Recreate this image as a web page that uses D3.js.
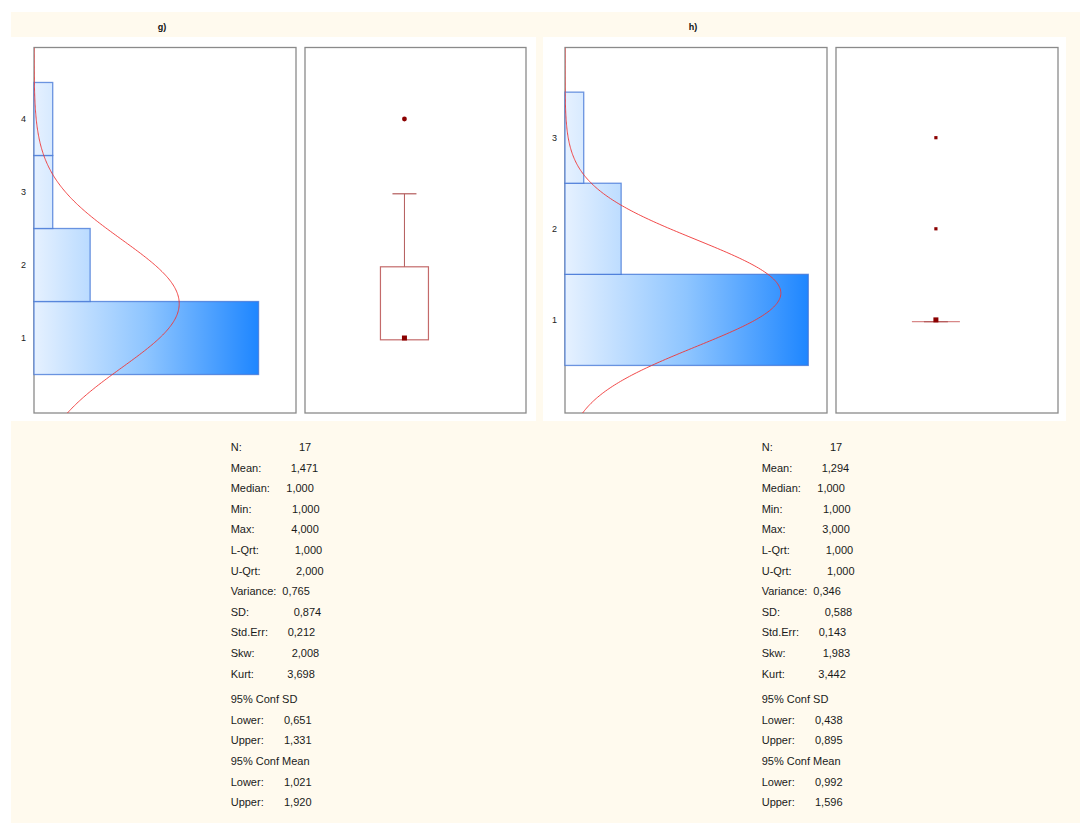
<!DOCTYPE html>
<html>
<head>
<meta charset="utf-8">
<script src="https://cdn.jsdelivr.net/npm/d3@7"></script>
<style>
  html, body { margin: 0; padding: 0; background: #ffffff; }
  svg { display: block; font-family: "Liberation Sans", Arial, sans-serif; }
</style>
</head>
<body>
<svg id="chart" width="1091" height="823"></svg>
<script>
// ---------------- DATA ----------------
const panelTitles = ["g)", "h)"];
const binCentersG = [1, 2, 3, 4];
const countsG = [12, 3, 1, 1];
const binCentersH = [1, 2, 3];
const countsH = [13, 3, 1];
const yTicksG = [1, 2, 3, 4];
const yTicksH = [1, 2, 3];
const yDomainG = [-0.027, 4.979];
const yDomainH = [-0.022, 3.99];
const countDomain = [0, 14];
const nG = 17, meanG = 1.471, sdG = 0.874;
const nH = 17, meanH = 1.294, sdH = 0.588;
// box-plot summaries
const boxG = { q1: 1, median: 1, q3: 2, whiskerLo: 1, whiskerHi: 3, outliers: [4] };
const boxH = { q1: 1, median: 1, q3: 1, whiskerLo: 1, whiskerHi: 1, outliers: [2, 3] };
// statistics table
const statLabels = ["N:", "Mean:", "Median:", "Min:", "Max:", "L-Qrt:", "U-Qrt:", "Variance:", "SD:",
  "Std.Err:", "Skw:", "Kurt:", "95% Conf SD", "Lower:", "Upper:", "95% Conf Mean", "Lower:", "Upper:"];
const statsG = ["17", "1,471", "1,000", "1,000", "4,000", "1,000", "2,000", "0,765", "0,874",
  "0,212", "2,008", "3,698", "", "0,651", "1,331", "", "1,021", "1,920"];
const statsH = ["17", "1,294", "1,000", "1,000", "3,000", "1,000", "1,000", "0,346", "0,588",
  "0,143", "1,983", "3,442", "", "0,438", "0,895", "", "0,992", "1,596"];

// ---------------- LAYOUT ----------------
const valueDx = [68.3, 60, 55.6, 61.3, 60.6, 64, 65.3, 51.6, 63, 57, 61, 56.6, 0, 53.3, 53.3, 0, 53.3, 53.3];
const panels = [
  { title: panelTitles[0], bins: binCentersG, counts: countsG, ticks: yTicksG, yDomain: yDomainG,
    n: nG, mean: meanG, sd: sdG, box: boxG, stats: statsG,
    white: [11, 536], hist: [34, 296], boxX: [305, 526], labelX: 230.7, outlierShape: "circle" },
  { title: panelTitles[1], bins: binCentersH, counts: countsH, ticks: yTicksH, yDomain: yDomainH,
    n: nH, mean: meanH, sd: sdH, box: boxH, stats: statsH,
    white: [543, 1066], hist: [565, 827], boxX: [836, 1058], labelX: 761.7, outlierShape: "square" }
];
const frameTop = 47.5, frameBottom = 413;

const svg = d3.select("#chart");
// cream background panel
svg.append("rect").attr("x", 11).attr("y", 12).attr("width", 1069).attr("height", 811).attr("fill", "#fffaee");

const defs = svg.append("defs");

panels.forEach((p, pi) => {
  const g = svg.append("g");
  // white plot area
  g.append("rect").attr("x", p.white[0]).attr("y", 37).attr("width", p.white[1] - p.white[0])
    .attr("height", 421 - 37).attr("fill", "#ffffff");

  // title
  g.append("text").attr("x", (p.hist[0] + p.hist[1]) / 2 - 3).attr("y", 30)
    .attr("text-anchor", "middle").attr("font-size", 9).attr("font-weight", "bold")
    .attr("fill", "#111").text(p.title);

  const y = d3.scaleLinear().domain(p.yDomain).range([frameBottom, frameTop]);
  const x = d3.scaleLinear().domain(countDomain).range([p.hist[0], p.hist[1]]);

  // clip for histogram
  const clipId = "clip" + pi;
  defs.append("clipPath").attr("id", clipId).append("rect")
    .attr("x", p.hist[0]).attr("y", frameTop).attr("width", p.hist[1] - p.hist[0])
    .attr("height", frameBottom - frameTop);

  // gradient
  const gradId = "grad" + pi;
  const grad = defs.append("linearGradient").attr("id", gradId)
    .attr("gradientUnits", "userSpaceOnUse")
    .attr("x1", x(0)).attr("x2", x(d3.max(p.counts))).attr("y1", 0).attr("y2", 0);
  grad.append("stop").attr("offset", 0).attr("stop-color", "#e6f1ff");
  grad.append("stop").attr("offset", 0.5).attr("stop-color", "#8ec5ff");
  grad.append("stop").attr("offset", 1).attr("stop-color", "#1e86ff");

  // frames
  [p.hist, p.boxX].forEach(fx => {
    g.append("rect").attr("x", fx[0]).attr("y", frameTop).attr("width", fx[1] - fx[0])
      .attr("height", frameBottom - frameTop).attr("fill", "#ffffff")
      .attr("stroke", "#8a8a8a").attr("stroke-width", 1.3);
  });

  // bars
  const binData = p.bins.map((b, i) => ({ b, c: p.counts[i] }));
  g.append("g").selectAll("rect").data(binData).join("rect")
    .attr("x", x(0))
    .attr("y", d => y(d.b + 0.5))
    .attr("width", d => x(d.c) - x(0))
    .attr("height", d => y(d.b - 0.5) - y(d.b + 0.5))
    .attr("fill", `url(#${gradId})`)
    .attr("stroke", "#3f73d6").attr("stroke-opacity", 0.75).attr("stroke-width", 1.3);

  // tick labels
  g.append("g").selectAll("text").data(p.ticks).join("text")
    .attr("x", p.hist[0] - 8).attr("y", d => y(d) + 3)
    .attr("text-anchor", "end").attr("font-size", 9).attr("fill", "#222")
    .text(d => d);

  // normal curve
  const steps = 300;
  const vs = d3.range(steps + 1).map(i => p.yDomain[0] + (p.yDomain[1] - p.yDomain[0]) * i / steps);
  const pdf = v => p.n / (p.sd * Math.sqrt(2 * Math.PI)) * Math.exp(-0.5 * ((v - p.mean) / p.sd) ** 2);
  const line = d3.line().x(v => x(pdf(v))).y(v => y(v));
  g.append("path").attr("d", line(vs)).attr("fill", "none")
    .attr("stroke", "#f03535").attr("stroke-width", 1).attr("stroke-opacity", 0.9)
    .attr("clip-path", `url(#${clipId})`);

  // box plot
  const cx = p.boxX[0] + 0.45 * (p.boxX[1] - p.boxX[0]);
  const bw = 48, cw = 24, off = 1.8;
  const bx = p.box;
  const boxColor = "#c46a6a";
  if (bx.q3 > bx.q1) {
    g.append("rect").attr("x", cx - bw / 2).attr("y", y(bx.q3) + off)
      .attr("width", bw).attr("height", y(bx.q1) - y(bx.q3))
      .attr("fill", "none").attr("stroke", boxColor).attr("stroke-width", 1.2);
  } else {
    g.append("line").attr("x1", cx - bw / 2).attr("x2", cx + bw / 2)
      .attr("y1", y(bx.q1) + off).attr("y2", y(bx.q1) + off)
      .attr("stroke", "#d88888").attr("stroke-width", 1.2);
  }
  // upper whisker
  g.append("line").attr("x1", cx).attr("x2", cx)
    .attr("y1", y(bx.q3) + off).attr("y2", y(bx.whiskerHi) + off)
    .attr("stroke", "#b35a5a").attr("stroke-width", 1);
  g.append("line").attr("x1", cx - cw / 2).attr("x2", cx + cw / 2)
    .attr("y1", y(bx.whiskerHi) + off).attr("y2", y(bx.whiskerHi) + off)
    .attr("stroke", "#b35a5a").attr("stroke-width", 1.2);
  // lower whisker
  if (bx.whiskerLo < bx.q1) {
    g.append("line").attr("x1", cx).attr("x2", cx)
      .attr("y1", y(bx.q1) + off).attr("y2", y(bx.whiskerLo) + off)
      .attr("stroke", "#b35a5a").attr("stroke-width", 1);
  }
  // median
  g.append("rect").attr("x", cx - 2.5).attr("y", y(bx.median) - 2.5)
    .attr("width", 5).attr("height", 5).attr("fill", "#8b0000");
  // outliers
  if (p.outlierShape === "circle") {
    g.append("g").selectAll("circle").data(bx.outliers).join("circle")
      .attr("cx", cx).attr("cy", d => y(d)).attr("r", 2.4).attr("fill", "#8b0000");
  } else {
    g.append("g").selectAll("rect").data(bx.outliers).join("rect")
      .attr("x", cx - 1.6).attr("y", d => y(d) - 1.6).attr("width", 3.2).attr("height", 3.2)
      .attr("fill", "#8b0000");
  }

  // statistics text
  const rowY = i => 451 + i * 20.6 + (i >= 12 ? 5 : 0);
  const st = g.append("g").attr("font-size", 11).attr("fill", "#1a1a1a");
  st.selectAll("text.lab").data(statLabels).join("text").attr("class", "lab")
    .attr("x", p.labelX).attr("y", (d, i) => rowY(i)).text(d => d);
  st.selectAll("text.val").data(p.stats).join("text").attr("class", "val")
    .attr("x", (d, i) => p.labelX + valueDx[i]).attr("y", (d, i) => rowY(i)).text(d => d);
});
</script>
</body>
</html>
